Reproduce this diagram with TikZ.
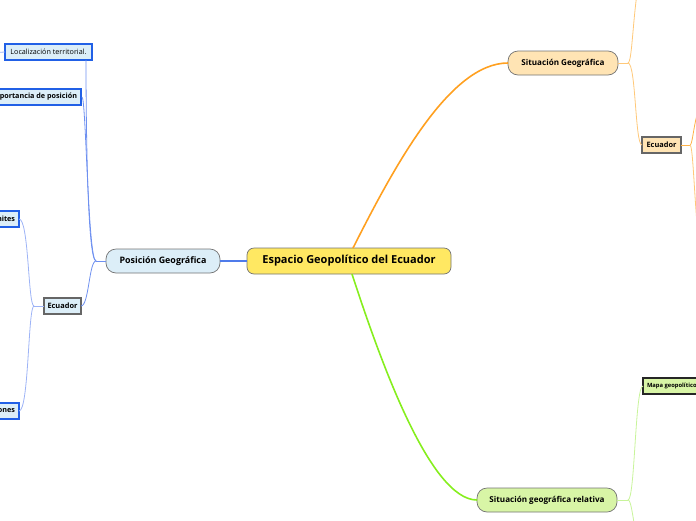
\documentclass[tikz,border=0pt]{standalone}
\usepackage{fontspec}
\setmainfont{Open Sans}
\usetikzlibrary{calc}
\definecolor{cyel}{HTML}{FFE862}
\definecolor{cblu}{HTML}{DCEEF8}
\definecolor{corg}{HTML}{FFE4B4}
\definecolor{cgrn}{HTML}{D8F5A6}
\definecolor{lblu}{HTML}{4F7BEA}
\definecolor{lblu2}{HTML}{6E90F0}
\definecolor{lblu3}{HTML}{9DB3F6}
\definecolor{lorg}{HTML}{FFA020}
\definecolor{lorg2}{HTML}{FFC878}
\definecolor{lorg3}{HTML}{FFB248}
\definecolor{lgrn}{HTML}{86EE1E}
\definecolor{lgrn2}{HTML}{C8F49A}
\definecolor{bblu}{HTML}{2160E6}
\tikzset{
  every node/.style={inner sep=0pt, outer sep=0pt, align=center, text=black},
  pill/.style={draw=black!55, line width=0.7pt, rounded corners=10pt, minimum height=24pt, font=\fontsize{8.1}{9}\selectfont\bfseries},
  ecbox/.style={draw=black!60, line width=1.5pt, minimum height=16pt, font=\fontsize{7.4}{8}\selectfont\bfseries},
  leafb/.style={draw=bblu, line width=1.5pt, fill=cblu, minimum height=16pt, inner xsep=4pt, font=\fontsize{7.2}{8}\selectfont\bfseries},
  mainc/.style={line width=1.6pt},
  subc/.style={line width=0.8pt},
}
\begin{document}
\begin{tikzpicture}[x=1pt,y=-1pt]
\useasboundingbox (0,0) rectangle (696,520);
\clip (0,0) rectangle (696,520);
% nodes
\node[draw=black!55, line width=0.7pt, fill=cyel, rounded corners=7pt, minimum width=204pt, minimum height=26pt, font=\fontsize{11}{13}\selectfont\bfseries] (cen) at (349,261) {Espacio Geopolítico del Ecuador};
\node[pill, fill=cblu, minimum width=114pt, font=\fontsize{8.9}{10}\selectfont\bfseries] (pos) at (163,261) {Posición Geográfica};
\node[pill, fill=corg, minimum width=110pt] (sit) at (563,63) {Situación Geográfica};
\node[pill, fill=cgrn, minimum width=140pt] (rel) at (547,500) {Situación geográfica relativa};
\node[ecbox, fill=cblu, minimum width=37pt] (ecl) at (62.5,306) {Ecuador};
\node[ecbox, fill=corg, minimum width=39pt] (eco) at (661.5,145) {Ecuador};
\node[leafb, minimum width=87pt, font=\fontsize{7.2}{8}\selectfont] (loc) at (48.5,52) {Localización territorial.};
\node[leafb, anchor=east] (imp) at (81,97) {Importancia de posición};
\node[leafb, anchor=east] (lim) at (19,219) {Límites};
\node[leafb, anchor=east] (reg) at (19,411) {Regiones};
\node[draw=black!85, line width=1.5pt, fill=cgrn, minimum height=16pt, inner xsep=4pt, anchor=west, font=\fontsize{5.8}{7}\selectfont\bfseries] (map) at (643,386) {Mapa geopolítico};
% free ends
\coordinate (locL) at (-12,53);
\coordinate (sitU) at (650,-40);
\coordinate (ecoU) at (712,95);
\coordinate (ecoD) at (712,290);
\coordinate (relD) at (650,560);
% main connectors
\draw[mainc, lorg] ([xshift=4pt]cen.north) .. controls (395,165) and (450,63) .. (sit.west);
\draw[mainc, lgrn] ([xshift=3pt]cen.south) .. controls (380,360) and (430,500) .. (rel.west);
\draw[line width=1.2pt, lblu] (cen.west) -- (pos.east);
% left side
\draw[subc, lblu2] (pos.west) -- ++(-10,0) coordinate (pj);
\draw[subc, lblu2] (pj) .. controls (87,261) and (86,110) .. ([xshift=-6pt]loc.south east);
\draw[subc, lblu2] (pj) .. controls (88,261) and (86,97) .. ([xshift=1pt]imp.east);
\draw[subc, lblu2] (pj) .. controls (89,261) and (89,306) .. (ecl.east);
\draw[subc, lblu3] (ecl.west) -- ++(-10,0) coordinate (ej);
\draw[subc, lblu3] (ej) .. controls (28,306) and (29,219) .. (lim.east);
\draw[subc, lblu3] (ej) .. controls (28,306) and (29,411) .. (reg.east);
\draw[subc, lblu3] (loc.west) -- (locL);
% right side orange
\draw[subc, lorg2] (sit.east) -- ++(10,0) coordinate (sj);
\draw[subc, lorg2] (sj) .. controls (634,63) and (633,-40) .. (sitU);
\draw[subc, lorg2] (sj) .. controls (636,63) and (635,145) .. (eco.west);
\draw[line width=1pt, lorg3] (eco.east) -- ++(9,0) coordinate (oj);
\draw[subc, lorg3] (oj) .. controls (694,145) and (694,95) .. (ecoU);
\draw[subc, lorg2] (oj) .. controls (695,145) and (695,290) .. (ecoD);
% right side green
\draw[subc, lgrn2] (rel.east) -- ++(11,0) coordinate (gj);
\draw[subc, lgrn2] (gj) .. controls (635,500) and (635,386) .. (map.west);
\draw[subc, lgrn2] (gj) .. controls (634,500) and (634,560) .. (relD);
\end{tikzpicture}
\end{document}
